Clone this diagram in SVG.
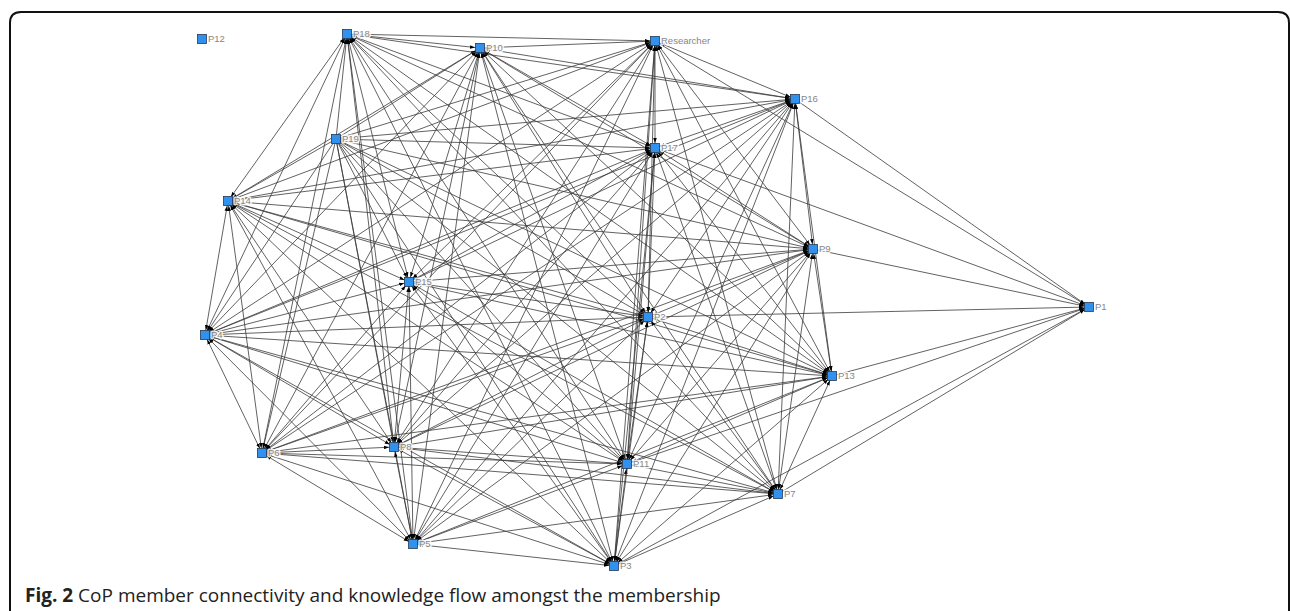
<svg xmlns="http://www.w3.org/2000/svg" width="1290" height="611" viewBox="0 0 1290 611">
<style>
.e line{stroke:#3a3a3a;stroke-width:0.8;fill:none}
.b{marker-start:url(#as);marker-end:url(#ae)}
.o{marker-end:url(#ae)}
.n rect{fill:#3391ee;stroke:#243a55;stroke-width:0.8}
.n text{font-family:"Liberation Sans",Arial,sans-serif;font-size:9.5px;fill:#858585;stroke:#fff;stroke-width:3;stroke-opacity:0.9;stroke-linejoin:round;paint-order:stroke}
.cap{font-family:"Open Sans","Noto Sans",sans-serif;font-size:19px;fill:#222}
</style>
<defs>
<marker id="ae" markerUnits="userSpaceOnUse" viewBox="0 0 5 4" markerWidth="5" markerHeight="4" refX="10" refY="2" orient="auto"><path d="M0,0.2L5,2L0,3.8z" fill="#000"/></marker>
<marker id="as" markerUnits="userSpaceOnUse" viewBox="0 0 5 4" markerWidth="5" markerHeight="4" refX="10" refY="2" orient="auto-start-reverse"><path d="M0,0.2L5,2L0,3.8z" fill="#000"/></marker>
</defs>
<rect width="1290" height="611" fill="#fff"/>
<path d="M10,620L10,23Q10,12 21,12L1278,12Q1289,12 1289,23L1289,620" fill="none" stroke="#111" stroke-width="2"/>
<g id="connectors" class="e">
<line class="b" x1="655" y1="41" x2="480" y2="48"/>
<line class="b" x1="655" y1="41" x2="347" y2="34"/>
<line class="o" x1="336" y1="139" x2="655" y2="41"/>
<line class="b" x1="655" y1="41" x2="228" y2="201"/>
<line class="b" x1="655" y1="41" x2="205" y2="335"/>
<line class="b" x1="655" y1="41" x2="262" y2="453"/>
<line class="b" x1="655" y1="41" x2="394" y2="447"/>
<line class="b" x1="655" y1="41" x2="413" y2="544"/>
<line class="b" x1="655" y1="41" x2="409" y2="282"/>
<line class="b" x1="655" y1="41" x2="614" y2="566"/>
<line class="b" x1="655" y1="41" x2="627" y2="464"/>
<line class="b" x1="655" y1="41" x2="648" y2="317"/>
<line class="b" x1="655" y1="41" x2="778" y2="494"/>
<line class="b" x1="655" y1="41" x2="832" y2="376"/>
<line class="b" x1="655" y1="41" x2="813" y2="249"/>
<line class="b" x1="655" y1="41" x2="655" y2="148"/>
<line class="b" x1="655" y1="41" x2="795" y2="99"/>
<line class="b" x1="480" y1="48" x2="347" y2="34"/>
<line class="o" x1="336" y1="139" x2="480" y2="48"/>
<line class="b" x1="480" y1="48" x2="228" y2="201"/>
<line class="b" x1="480" y1="48" x2="205" y2="335"/>
<line class="b" x1="480" y1="48" x2="262" y2="453"/>
<line class="b" x1="480" y1="48" x2="394" y2="447"/>
<line class="b" x1="480" y1="48" x2="413" y2="544"/>
<line class="b" x1="480" y1="48" x2="409" y2="282"/>
<line class="b" x1="480" y1="48" x2="614" y2="566"/>
<line class="b" x1="480" y1="48" x2="627" y2="464"/>
<line class="b" x1="480" y1="48" x2="648" y2="317"/>
<line class="b" x1="480" y1="48" x2="778" y2="494"/>
<line class="b" x1="480" y1="48" x2="832" y2="376"/>
<line class="b" x1="480" y1="48" x2="813" y2="249"/>
<line class="b" x1="480" y1="48" x2="655" y2="148"/>
<line class="b" x1="480" y1="48" x2="795" y2="99"/>
<line class="o" x1="336" y1="139" x2="347" y2="34"/>
<line class="b" x1="347" y1="34" x2="228" y2="201"/>
<line class="b" x1="347" y1="34" x2="205" y2="335"/>
<line class="b" x1="347" y1="34" x2="262" y2="453"/>
<line class="b" x1="347" y1="34" x2="394" y2="447"/>
<line class="b" x1="347" y1="34" x2="413" y2="544"/>
<line class="b" x1="347" y1="34" x2="409" y2="282"/>
<line class="b" x1="347" y1="34" x2="614" y2="566"/>
<line class="b" x1="347" y1="34" x2="627" y2="464"/>
<line class="b" x1="347" y1="34" x2="648" y2="317"/>
<line class="b" x1="347" y1="34" x2="778" y2="494"/>
<line class="b" x1="347" y1="34" x2="832" y2="376"/>
<line class="b" x1="347" y1="34" x2="813" y2="249"/>
<line class="b" x1="347" y1="34" x2="655" y2="148"/>
<line class="b" x1="347" y1="34" x2="795" y2="99"/>
<line class="o" x1="336" y1="139" x2="228" y2="201"/>
<line class="o" x1="336" y1="139" x2="205" y2="335"/>
<line class="o" x1="336" y1="139" x2="262" y2="453"/>
<line class="o" x1="336" y1="139" x2="394" y2="447"/>
<line class="o" x1="336" y1="139" x2="413" y2="544"/>
<line class="o" x1="336" y1="139" x2="409" y2="282"/>
<line class="o" x1="336" y1="139" x2="614" y2="566"/>
<line class="o" x1="336" y1="139" x2="627" y2="464"/>
<line class="o" x1="336" y1="139" x2="648" y2="317"/>
<line class="o" x1="336" y1="139" x2="778" y2="494"/>
<line class="o" x1="336" y1="139" x2="832" y2="376"/>
<line class="o" x1="336" y1="139" x2="813" y2="249"/>
<line class="o" x1="336" y1="139" x2="655" y2="148"/>
<line class="o" x1="336" y1="139" x2="795" y2="99"/>
<line class="b" x1="228" y1="201" x2="205" y2="335"/>
<line class="b" x1="228" y1="201" x2="262" y2="453"/>
<line class="b" x1="228" y1="201" x2="394" y2="447"/>
<line class="b" x1="228" y1="201" x2="413" y2="544"/>
<line class="b" x1="228" y1="201" x2="409" y2="282"/>
<line class="b" x1="228" y1="201" x2="614" y2="566"/>
<line class="b" x1="228" y1="201" x2="627" y2="464"/>
<line class="b" x1="228" y1="201" x2="648" y2="317"/>
<line class="b" x1="228" y1="201" x2="778" y2="494"/>
<line class="b" x1="228" y1="201" x2="832" y2="376"/>
<line class="b" x1="228" y1="201" x2="813" y2="249"/>
<line class="b" x1="228" y1="201" x2="655" y2="148"/>
<line class="b" x1="228" y1="201" x2="795" y2="99"/>
<line class="b" x1="205" y1="335" x2="262" y2="453"/>
<line class="b" x1="205" y1="335" x2="394" y2="447"/>
<line class="b" x1="205" y1="335" x2="413" y2="544"/>
<line class="b" x1="205" y1="335" x2="409" y2="282"/>
<line class="b" x1="205" y1="335" x2="614" y2="566"/>
<line class="b" x1="205" y1="335" x2="627" y2="464"/>
<line class="b" x1="205" y1="335" x2="648" y2="317"/>
<line class="b" x1="205" y1="335" x2="778" y2="494"/>
<line class="b" x1="205" y1="335" x2="832" y2="376"/>
<line class="b" x1="205" y1="335" x2="813" y2="249"/>
<line class="b" x1="205" y1="335" x2="655" y2="148"/>
<line class="b" x1="205" y1="335" x2="795" y2="99"/>
<line class="b" x1="262" y1="453" x2="394" y2="447"/>
<line class="b" x1="262" y1="453" x2="413" y2="544"/>
<line class="b" x1="262" y1="453" x2="409" y2="282"/>
<line class="b" x1="262" y1="453" x2="614" y2="566"/>
<line class="b" x1="262" y1="453" x2="627" y2="464"/>
<line class="b" x1="262" y1="453" x2="648" y2="317"/>
<line class="b" x1="262" y1="453" x2="778" y2="494"/>
<line class="b" x1="262" y1="453" x2="832" y2="376"/>
<line class="b" x1="262" y1="453" x2="813" y2="249"/>
<line class="b" x1="262" y1="453" x2="655" y2="148"/>
<line class="b" x1="262" y1="453" x2="795" y2="99"/>
<line class="b" x1="394" y1="447" x2="413" y2="544"/>
<line class="b" x1="394" y1="447" x2="409" y2="282"/>
<line class="b" x1="394" y1="447" x2="614" y2="566"/>
<line class="b" x1="394" y1="447" x2="627" y2="464"/>
<line class="b" x1="394" y1="447" x2="648" y2="317"/>
<line class="b" x1="394" y1="447" x2="778" y2="494"/>
<line class="b" x1="394" y1="447" x2="832" y2="376"/>
<line class="b" x1="394" y1="447" x2="813" y2="249"/>
<line class="b" x1="394" y1="447" x2="655" y2="148"/>
<line class="b" x1="394" y1="447" x2="795" y2="99"/>
<line class="b" x1="413" y1="544" x2="409" y2="282"/>
<line class="b" x1="413" y1="544" x2="614" y2="566"/>
<line class="b" x1="413" y1="544" x2="627" y2="464"/>
<line class="b" x1="413" y1="544" x2="648" y2="317"/>
<line class="b" x1="413" y1="544" x2="778" y2="494"/>
<line class="b" x1="413" y1="544" x2="832" y2="376"/>
<line class="b" x1="413" y1="544" x2="813" y2="249"/>
<line class="b" x1="413" y1="544" x2="655" y2="148"/>
<line class="b" x1="413" y1="544" x2="795" y2="99"/>
<line class="b" x1="409" y1="282" x2="614" y2="566"/>
<line class="b" x1="409" y1="282" x2="627" y2="464"/>
<line class="b" x1="409" y1="282" x2="648" y2="317"/>
<line class="b" x1="409" y1="282" x2="778" y2="494"/>
<line class="b" x1="409" y1="282" x2="832" y2="376"/>
<line class="b" x1="409" y1="282" x2="813" y2="249"/>
<line class="b" x1="409" y1="282" x2="655" y2="148"/>
<line class="b" x1="409" y1="282" x2="795" y2="99"/>
<line class="b" x1="614" y1="566" x2="627" y2="464"/>
<line class="b" x1="614" y1="566" x2="648" y2="317"/>
<line class="b" x1="614" y1="566" x2="778" y2="494"/>
<line class="b" x1="614" y1="566" x2="832" y2="376"/>
<line class="b" x1="614" y1="566" x2="813" y2="249"/>
<line class="b" x1="614" y1="566" x2="655" y2="148"/>
<line class="b" x1="614" y1="566" x2="795" y2="99"/>
<line class="b" x1="627" y1="464" x2="648" y2="317"/>
<line class="b" x1="627" y1="464" x2="778" y2="494"/>
<line class="b" x1="627" y1="464" x2="832" y2="376"/>
<line class="b" x1="627" y1="464" x2="813" y2="249"/>
<line class="b" x1="627" y1="464" x2="655" y2="148"/>
<line class="b" x1="627" y1="464" x2="795" y2="99"/>
<line class="b" x1="648" y1="317" x2="778" y2="494"/>
<line class="b" x1="648" y1="317" x2="832" y2="376"/>
<line class="b" x1="648" y1="317" x2="813" y2="249"/>
<line class="b" x1="648" y1="317" x2="655" y2="148"/>
<line class="b" x1="648" y1="317" x2="795" y2="99"/>
<line class="b" x1="778" y1="494" x2="832" y2="376"/>
<line class="b" x1="778" y1="494" x2="813" y2="249"/>
<line class="b" x1="778" y1="494" x2="655" y2="148"/>
<line class="b" x1="778" y1="494" x2="795" y2="99"/>
<line class="b" x1="832" y1="376" x2="813" y2="249"/>
<line class="b" x1="832" y1="376" x2="655" y2="148"/>
<line class="b" x1="832" y1="376" x2="795" y2="99"/>
<line class="b" x1="813" y1="249" x2="655" y2="148"/>
<line class="b" x1="813" y1="249" x2="795" y2="99"/>
<line class="b" x1="655" y1="148" x2="795" y2="99"/>
<line class="o" x1="655" y1="41" x2="1089" y2="307"/>
<line class="o" x1="795" y1="99" x2="1089" y2="307"/>
<line class="o" x1="655" y1="148" x2="1089" y2="307"/>
<line class="o" x1="813" y1="249" x2="1089" y2="307"/>
<line class="o" x1="648" y1="317" x2="1089" y2="307"/>
<line class="o" x1="832" y1="376" x2="1089" y2="307"/>
<line class="o" x1="627" y1="464" x2="1089" y2="307"/>
<line class="o" x1="614" y1="566" x2="1089" y2="307"/>
<line class="o" x1="778" y1="494" x2="1089" y2="307"/>
</g>
<g id="P12" class="n"><rect x="197.5" y="34.5" width="9" height="9"/><text x="208" y="42">P12</text></g>
<g id="P18" class="n"><rect x="342.5" y="29.5" width="9" height="9"/><text x="353" y="37">P18</text></g>
<g id="P10" class="n"><rect x="475.5" y="43.5" width="9" height="9"/><text x="486" y="51">P10</text></g>
<g id="Researcher" class="n"><rect x="650.5" y="36.5" width="9" height="9"/><text x="661" y="44">Researcher</text></g>
<g id="P16" class="n"><rect x="790.5" y="94.5" width="9" height="9"/><text x="801" y="102">P16</text></g>
<g id="P19" class="n"><rect x="331.5" y="134.5" width="9" height="9"/><text x="342" y="142">P19</text></g>
<g id="P17" class="n"><rect x="650.5" y="143.5" width="9" height="9"/><text x="661" y="151">P17</text></g>
<g id="P14" class="n"><rect x="223.5" y="196.5" width="9" height="9"/><text x="234" y="204">P14</text></g>
<g id="P9" class="n"><rect x="808.5" y="244.5" width="9" height="9"/><text x="819" y="252">P9</text></g>
<g id="P15" class="n"><rect x="404.5" y="277.5" width="9" height="9"/><text x="415" y="285">P15</text></g>
<g id="P1" class="n"><rect x="1084.5" y="302.5" width="9" height="9"/><text x="1095" y="310">P1</text></g>
<g id="P2" class="n"><rect x="643.5" y="312.5" width="9" height="9"/><text x="654" y="320">P2</text></g>
<g id="P4" class="n"><rect x="200.5" y="330.5" width="9" height="9"/><text x="211" y="338">P4</text></g>
<g id="P13" class="n"><rect x="827.5" y="371.5" width="9" height="9"/><text x="838" y="379">P13</text></g>
<g id="P8" class="n"><rect x="389.5" y="442.5" width="9" height="9"/><text x="400" y="450">P8</text></g>
<g id="P6" class="n"><rect x="257.5" y="448.5" width="9" height="9"/><text x="268" y="456">P6</text></g>
<g id="P11" class="n"><rect x="622.5" y="459.5" width="9" height="9"/><text x="633" y="467">P11</text></g>
<g id="P7" class="n"><rect x="773.5" y="489.5" width="9" height="9"/><text x="784" y="497">P7</text></g>
<g id="P5" class="n"><rect x="408.5" y="539.5" width="9" height="9"/><text x="419" y="547">P5</text></g>
<g id="P3" class="n"><rect x="609.5" y="561.5" width="9" height="9"/><text x="620" y="569">P3</text></g>
<text class="cap" x="25" y="602"><tspan font-weight="bold">Fig. 2</tspan> CoP member connectivity and knowledge flow amongst the membership</text>
</svg>
